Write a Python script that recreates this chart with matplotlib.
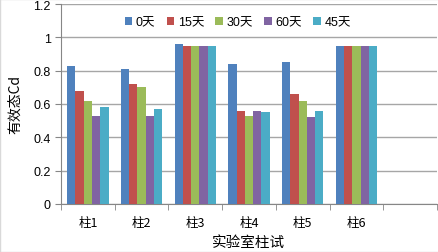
import matplotlib
matplotlib.use("Agg")
import matplotlib.pyplot as plt
import numpy as np

plt.rcParams['font.family'] = ['Liberation Sans', 'Noto Sans CJK SC', 'DejaVu Sans']

categories = ['柱1', '柱2', '柱3', '柱4', '柱5', '柱6', '']
series_names = ['0天', '15天', '30天', '60天', '45天']
s0 = [0.83, 0.81, 0.96, 0.84, 0.85, 0.95]
s15 = [0.68, 0.72, 0.95, 0.56, 0.66, 0.95]
s30 = [0.62, 0.70, 0.95, 0.53, 0.62, 0.95]
s60 = [0.53, 0.53, 0.95, 0.56, 0.52, 0.95]
s45 = [0.58, 0.57, 0.95, 0.55, 0.56, 0.95]
series = [s0, s15, s30, s60, s45]
colors = ['#4F81BD', '#C0504D', '#9BBB59', '#8064A2', '#4BACC6']

fig = plt.figure(figsize=(4.39, 2.53), dpi=100)
ax = fig.add_axes([61/439, 1-205/253, 376/439, 200/253])

n = len(series)
bw = 0.77 / n
x = np.arange(len(s0))
for i, (vals, c, name) in enumerate(zip(series, colors, series_names)):
    ax.bar(x + (i - (n-1)/2) * bw, vals, width=bw, color=c, label=name, zorder=3)

ax.set_xlim(-0.5, len(categories) - 0.5)
ax.set_ylim(0, 1.2)
ax.set_yticks([0, 0.2, 0.4, 0.6, 0.8, 1.0, 1.2])
ax.set_yticklabels(['0', '0.2', '0.4', '0.6', '0.8', '1', '1.2'], fontsize=9)
ax.set_xticks(np.arange(len(categories)))
ax.set_xticklabels(categories, fontsize=9, family=['Noto Sans CJK SC'])
ax.set_xticks(np.arange(len(categories) + 1) - 0.5, minor=True)
ax.tick_params(axis='x', which='major', length=0, pad=9)
ax.tick_params(axis='x', which='minor', length=4, color='#868686')
ax.tick_params(axis='y', length=4, color='#868686', direction='out')
ax.yaxis.grid(True, color='#A6A6A6', linewidth=1, zorder=0)
for s in ['top', 'right']:
    ax.spines[s].set_visible(False)
for s in ['left', 'bottom']:
    ax.spines[s].set_color('#868686')

ax.set_ylabel('有效态Cd', fontsize=10, family=['Noto Sans CJK SC'], labelpad=8)
ax.set_xlabel('实验室柱试', fontsize=10.5, family=['Noto Sans CJK SC'], labelpad=4)

leg = ax.legend(loc='upper center', bbox_to_anchor=(0.47, 0.99), ncol=5, frameon=True,
                handlelength=0.6, handleheight=0.6, handletextpad=0.3,
                columnspacing=0.9, borderpad=0.3,
                prop={'family': ['Liberation Sans', 'Noto Sans CJK SC'], 'size': 9})
leg.get_frame().set_facecolor('white')
leg.get_frame().set_edgecolor('white')
leg.get_frame().set_alpha(1)

fig.patches.append(plt.Rectangle((0, 0), 1, 1, transform=fig.transFigure,
                                 fill=False, edgecolor='#D9D9D9', linewidth=1))
fig.savefig('out.png', dpi=100)
